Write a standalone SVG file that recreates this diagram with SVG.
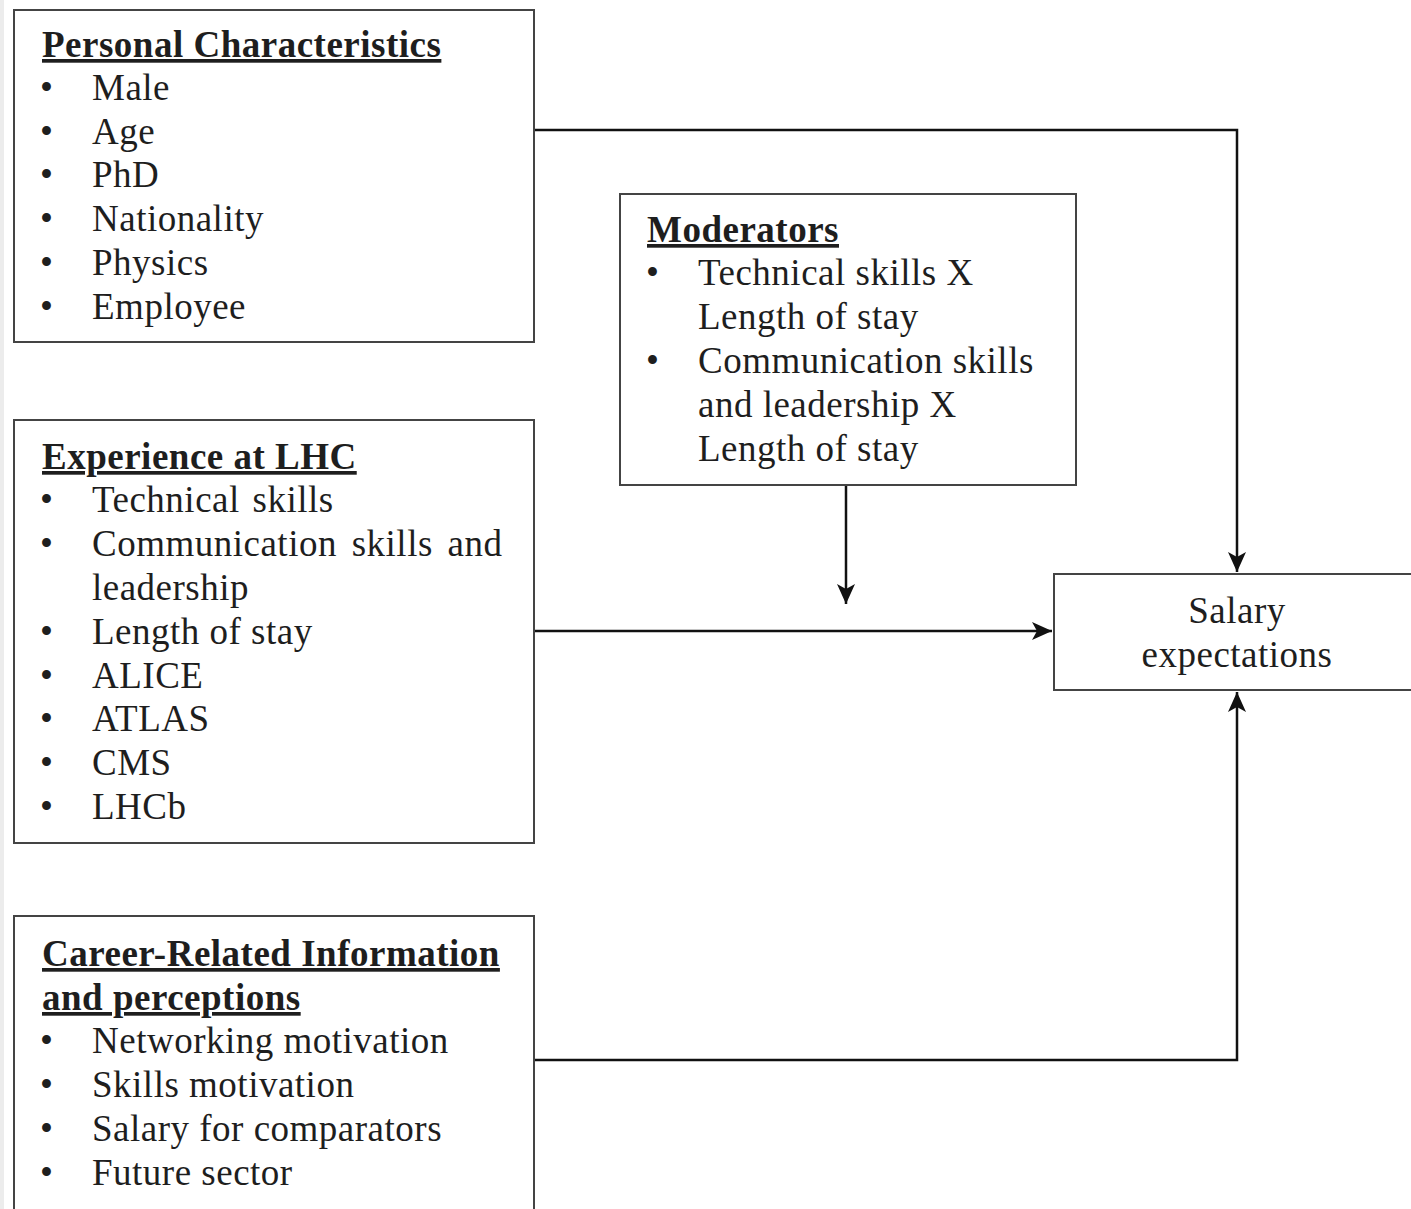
<svg xmlns="http://www.w3.org/2000/svg" width="1411" height="1209" viewBox="0 0 1411 1209">
<style>
  .box { fill: #fff; stroke: #444; stroke-width: 2; }
  text { font-family: "Liberation Serif", "Times New Roman", serif; font-size: 37px; letter-spacing: 0.5px; fill: #1e1e1e; }
  .title { font-weight: bold; text-decoration: underline; }
  .conn { fill: none; stroke: #111; stroke-width: 2.5; }
</style>
<defs>
  <marker id="arrow" viewBox="0 0 20 20" refX="20" refY="10" markerWidth="20" markerHeight="20" markerUnits="userSpaceOnUse" orient="auto">
    <path d="M0,1 L20,10 L0,19 L5,10 z" fill="#111"/>
  </marker>
</defs>
<rect x="0" y="0" width="1411" height="1209" fill="#fff"/>
<rect x="0" y="0" width="4" height="1209" fill="#ececec"/>

<g id="connectors">
  <path class="conn" d="M534,130 H1237 V572" marker-end="url(#arrow)"/>
  <path class="conn" d="M534,631 H1052" marker-end="url(#arrow)"/>
  <path class="conn" d="M846,485 V604" marker-end="url(#arrow)"/>
  <path class="conn" d="M534,1060 H1237 V692" marker-end="url(#arrow)"/>
</g>

<g id="personal">
  <rect class="box" x="14" y="10" width="520" height="332"/>
  <text class="title" x="42" y="57">Personal Characteristics</text>
  <text x="40" y="100">•</text><text x="92" y="100">Male</text>
  <text x="40" y="144">•</text><text x="92" y="144">Age</text>
  <text x="40" y="187">•</text><text x="92" y="187">PhD</text>
  <text x="40" y="231">•</text><text x="92" y="231">Nationality</text>
  <text x="40" y="275">•</text><text x="92" y="275">Physics</text>
  <text x="40" y="319">•</text><text x="92" y="319">Employee</text>
</g>

<g id="experience">
  <rect class="box" x="14" y="420" width="520" height="423"/>
  <text class="title" x="42" y="469">Experience at LHC</text>
  <text x="40" y="512">•</text><text x="92" y="512" word-spacing="3">Technical skills</text>
  <text x="40" y="556">•</text><text x="92" y="556" word-spacing="5">Communication skills and</text>
  <text x="92" y="600">leadership</text>
  <text x="40" y="644">•</text><text x="92" y="644">Length of stay</text>
  <text x="40" y="688">•</text><text x="92" y="688">ALICE</text>
  <text x="40" y="731">•</text><text x="92" y="731">ATLAS</text>
  <text x="40" y="775">•</text><text x="92" y="775">CMS</text>
  <text x="40" y="819">•</text><text x="92" y="819">LHCb</text>
</g>

<g id="career">
  <rect class="box" x="14" y="916" width="520" height="300"/>
  <text class="title" x="42" y="966">Career-Related Information</text>
  <text class="title" x="42" y="1010">and perceptions</text>
  <text x="40" y="1053">•</text><text x="92" y="1053">Networking motivation</text>
  <text x="40" y="1097">•</text><text x="92" y="1097">Skills motivation</text>
  <text x="40" y="1141">•</text><text x="92" y="1141">Salary for comparators</text>
  <text x="40" y="1185">•</text><text x="92" y="1185">Future sector</text>
</g>

<g id="moderators">
  <rect class="box" x="620" y="194" width="456" height="291"/>
  <text class="title" x="647" y="242">Moderators</text>
  <text x="646" y="285">•</text><text x="698" y="285">Technical skills X</text>
  <text x="698" y="329">Length of stay</text>
  <text x="646" y="373">•</text><text x="698" y="373">Communication skills</text>
  <text x="698" y="417">and leadership X</text>
  <text x="698" y="461">Length of stay</text>
</g>

<g id="salary">
  <rect class="box" x="1054" y="574" width="360" height="116"/>
  <text x="1237" y="623" text-anchor="middle">Salary</text>
  <text x="1237" y="667" text-anchor="middle">expectations</text>
</g>
</svg>
